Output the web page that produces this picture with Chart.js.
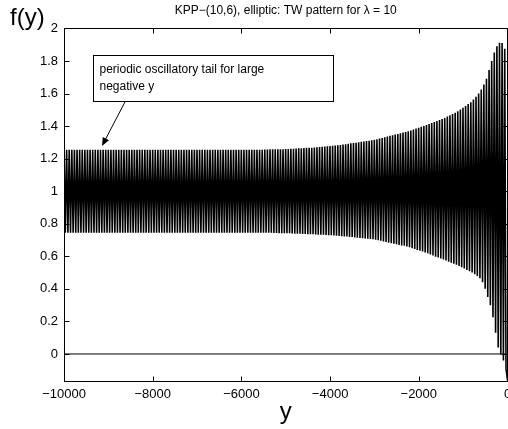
<!DOCTYPE html>
<html>
<head>
<meta charset="utf-8">
<script src="https://cdn.jsdelivr.net/npm/chart.js@4.4.1/dist/chart.umd.min.js"></script>
<style>
  html, body { margin: 0; padding: 0; background: #fff; overflow: hidden; }
  #wrap { width: 540px; height: 429px; }
</style>
</head>
<body>
<div id="wrap"><canvas id="tw" width="540" height="429"></canvas></div>
<script>
// x ticks / y ticks of the figure
var xTicks = [-10000, -8000, -6000, -4000, -2000, 0];
var yTicks = [0, 0.2, 0.4, 0.6, 0.8, 1, 1.2, 1.4, 1.6, 1.8, 2];

// oscillation: one crest and one trough per cycle, cycles evenly spaced from y = -10000
var cycleStart = -10000;
var cyclePeriod = 58.8;

// crest heights, read cycle by cycle
var crests = [
  1.255, 1.255, 1.255, 1.255, 1.255, 1.255, 1.255, 1.255, 1.255, 1.255, 1.255,
  1.255, 1.255, 1.255, 1.255, 1.255, 1.255, 1.255, 1.255, 1.255, 1.255, 1.255,
  1.255, 1.255, 1.255, 1.255, 1.255, 1.255, 1.255, 1.255, 1.255, 1.255, 1.255,
  1.255, 1.255, 1.255, 1.255, 1.255, 1.255, 1.255, 1.255, 1.255, 1.255, 1.255,
  1.255, 1.255, 1.255, 1.255, 1.255, 1.255, 1.255, 1.255, 1.255, 1.255, 1.255,
  1.255, 1.255, 1.255, 1.255, 1.255, 1.255, 1.255, 1.255, 1.255, 1.255, 1.255,
  1.255, 1.255, 1.255, 1.255, 1.255, 1.255, 1.255, 1.255, 1.255, 1.255, 1.255,
  1.256, 1.256, 1.257, 1.257, 1.257, 1.258, 1.258, 1.258,
  1.259, 1.259, 1.260, 1.261, 1.262,
  1.263, 1.264, 1.265, 1.266, 1.266,
  1.267, 1.268, 1.270, 1.271, 1.273,
  1.274, 1.276, 1.277, 1.279, 1.281,
  1.282, 1.284, 1.286, 1.288, 1.291,
  1.294, 1.296, 1.298, 1.300, 1.303,
  1.305, 1.308, 1.310, 1.313, 1.316,
  1.319, 1.323, 1.327, 1.331, 1.336,
  1.340, 1.344, 1.348, 1.352, 1.356,
  1.360, 1.364, 1.368, 1.373, 1.379,
  1.385, 1.390, 1.396, 1.401, 1.407,
  1.413, 1.419, 1.425, 1.431, 1.437,
  1.443, 1.450, 1.458, 1.466, 1.474,
  1.482, 1.491, 1.501, 1.512, 1.523,
  1.535, 1.547, 1.563, 1.580, 1.600,
  1.625, 1.655, 1.690, 1.745, 1.800, 1.852, 1.890, 1.912, 1.910, 1.875
];

// trough heights, read cycle by cycle
var troughs = [
  0.745, 0.745, 0.745, 0.745, 0.745, 0.745, 0.745, 0.745, 0.745, 0.745, 0.745,
  0.745, 0.745, 0.745, 0.745, 0.745, 0.745, 0.745, 0.745, 0.745, 0.745, 0.745,
  0.745, 0.745, 0.745, 0.745, 0.745, 0.745, 0.745, 0.745, 0.745, 0.745, 0.745,
  0.745, 0.745, 0.745, 0.745, 0.745, 0.745, 0.745, 0.745, 0.745, 0.745, 0.745,
  0.745, 0.745, 0.745, 0.745, 0.745, 0.745, 0.745, 0.745, 0.745, 0.745, 0.745,
  0.745, 0.745, 0.745, 0.745, 0.745, 0.745, 0.745, 0.745, 0.745, 0.745, 0.745,
  0.745, 0.745, 0.745, 0.745, 0.745, 0.745, 0.745, 0.745, 0.745, 0.745, 0.745,
  0.744, 0.744, 0.744, 0.743, 0.743, 0.742, 0.742, 0.742,
  0.741, 0.741, 0.740, 0.739, 0.739,
  0.738, 0.737, 0.737, 0.736, 0.736,
  0.735, 0.734, 0.733, 0.732, 0.732,
  0.731, 0.730, 0.729, 0.728, 0.727,
  0.725, 0.724, 0.722, 0.721, 0.719,
  0.718, 0.716, 0.714, 0.713, 0.711,
  0.710, 0.708, 0.706, 0.705, 0.702,
  0.698, 0.695, 0.691, 0.688, 0.684,
  0.681, 0.677, 0.674, 0.670, 0.667,
  0.665, 0.660, 0.655, 0.650, 0.645,
  0.639, 0.634, 0.629, 0.624, 0.618,
  0.611, 0.605, 0.598, 0.592, 0.586,
  0.580, 0.574, 0.567, 0.561, 0.555,
  0.548, 0.541, 0.533, 0.525, 0.516,
  0.508, 0.500, 0.490, 0.479, 0.465,
  0.440, 0.400, 0.350, 0.300, 0.225, 0.130, 0.040, -0.005, -0.040, -0.090
];

// last sample at y = 0
var tailY = 0;
var tailValue = -0.16;

var yMin = -0.166, yMax = 2;
var xMin = -10000, xMax = 0;

var titleText = 'KPP\u2212(10,6), elliptic: TW pattern for \u03bb = 10';
var noteLines = ['periodic oscillatory tail for large', 'negative y'];

var FONT = '"Liberation Sans", Arial, Helvetica, sans-serif';

// build the line from the crest/trough lists
var wave = [];
for (var i = 0; i < crests.length; i++) {
    var x0 = cycleStart + i * cyclePeriod;
    wave.push({x: x0, y: crests[i]});
    wave.push({x: x0 + cyclePeriod / 2, y: troughs[i]});
}
wave.push({x: tailY, y: tailValue});

function minus(v) {
    return String(v).replace('-', '\u2212');
}

// box, inward ticks, annotation and the f(y) label
var decorations = {
    id: 'decorations',
    afterDraw: function (chart) {
        var ctx = chart.ctx;
        var a = chart.chartArea;
        var xs = chart.scales.x, ys = chart.scales.y;
        var L = Math.round(a.left) + 0.5, R = Math.round(a.right) - 0.5;
        var T = Math.round(a.top) + 0.5, B = Math.round(a.bottom) + 0.5;
        ctx.save();
        ctx.strokeStyle = '#000';
        ctx.lineWidth = 1;
        ctx.beginPath();
        xTicks.forEach(function (v) {
            var px = Math.round(xs.getPixelForValue(v)) + 0.5;
            ctx.moveTo(px, B); ctx.lineTo(px, B - 5);
            ctx.moveTo(px, T); ctx.lineTo(px, T + 5);
        });
        yTicks.forEach(function (v) {
            var py = Math.round(ys.getPixelForValue(v)) + 0.5;
            ctx.moveTo(L, py); ctx.lineTo(L + 5, py);
            ctx.moveTo(R, py); ctx.lineTo(R - 5, py);
        });
        ctx.stroke();
        ctx.strokeRect(L, T, R - L, B - T);

        // annotation box
        var bx0 = Math.round(xs.getPixelForValue(-9346)) + 0.5;
        var bx1 = Math.round(xs.getPixelForValue(-3935)) + 0.5;
        var by0 = Math.round(ys.getPixelForValue(1.837)) + 0.5;
        var by1 = Math.round(ys.getPixelForValue(1.554)) + 0.5;
        ctx.fillStyle = '#fff';
        ctx.fillRect(bx0, by0, bx1 - bx0, by1 - by0);
        ctx.strokeRect(bx0, by0, bx1 - bx0, by1 - by0);
        ctx.fillStyle = '#000';
        ctx.font = '12px ' + FONT;
        ctx.textAlign = 'left';
        ctx.textBaseline = 'alphabetic';
        ctx.fillText(noteLines[0], bx0 + 6, by0 + 17);
        ctx.fillText(noteLines[1], bx0 + 6, by0 + 34);

        // arrow
        var ax0 = xs.getPixelForValue(-8625), ay0 = ys.getPixelForValue(1.548);
        var ax1 = xs.getPixelForValue(-9143), ay1 = ys.getPixelForValue(1.278);
        var ang = Math.atan2(ay1 - ay0, ax1 - ax0);
        ctx.beginPath();
        ctx.moveTo(ax0, ay0);
        ctx.lineTo(ax1 - 6 * Math.cos(ang), ay1 - 6 * Math.sin(ang));
        ctx.stroke();
        ctx.beginPath();
        ctx.moveTo(ax1, ay1);
        ctx.lineTo(ax1 - 9 * Math.cos(ang - 0.4), ay1 - 9 * Math.sin(ang - 0.4));
        ctx.lineTo(ax1 - 9 * Math.cos(ang + 0.4), ay1 - 9 * Math.sin(ang + 0.4));
        ctx.closePath();
        ctx.fill();

        // f(y) label
        ctx.font = '24px ' + FONT;
        ctx.fillText('f(y)', 10, 24.5);
        ctx.restore();
    }
};

var chart = new Chart(document.getElementById('tw').getContext('2d'), {
    type: 'line',
    data: {
        datasets: [
            {
                label: 'f(y)',
                data: wave,
                borderColor: '#000',
                borderWidth: 1.6,
                pointRadius: 0,
                tension: 0,
                fill: false
            },
            {
                label: 'zero',
                data: [{x: xMin, y: 0}, {x: xMax, y: 0}],
                borderColor: '#000',
                borderWidth: 1,
                pointRadius: 0,
                fill: false
            }
        ]
    },
    options: {
        responsive: false,
        animation: false,
        devicePixelRatio: 1,
        layout: {padding: {left: 0, right: 32.5, top: 0, bottom: 0}},
        plugins: {
            legend: {display: false},
            tooltip: {enabled: false},
            title: {
                display: true,
                text: titleText,
                fullSize: false,
                color: '#000',
                font: {family: FONT, size: 12, weight: 'normal'},
                padding: {top: 3.5, bottom: 10.5}
            }
        },
        scales: {
            x: {
                type: 'linear',
                min: xMin,
                max: xMax,
                grid: {display: false, drawTicks: false},
                border: {display: false},
                afterBuildTicks: function (s) { s.ticks = xTicks.map(function (v) { return {value: v}; }); },
                afterFit: function (s) { s.height = 48; },
                ticks: {
                    color: '#000',
                    padding: 5.2,
                    maxRotation: 0,
                    font: {family: FONT, size: 13},
                    callback: function (v) { return minus(v); }
                },
                title: {
                    display: true,
                    text: 'y',
                    color: '#000',
                    font: {family: FONT, size: 24},
                    padding: {top: 0, bottom: 2.6}
                }
            },
            y: {
                min: yMin,
                max: yMax,
                grid: {display: false, drawTicks: false},
                border: {display: false},
                afterBuildTicks: function (s) { s.ticks = yTicks.map(function (v) { return {value: v}; }); },
                afterFit: function (s) { s.width = 64; },
                ticks: {
                    color: '#000',
                    padding: 6,
                    font: {family: FONT, size: 13},
                    callback: function (v) { return minus(Math.round(v * 10) / 10); }
                }
            }
        }
    },
    plugins: [decorations]
});
</script>
</body>
</html>
